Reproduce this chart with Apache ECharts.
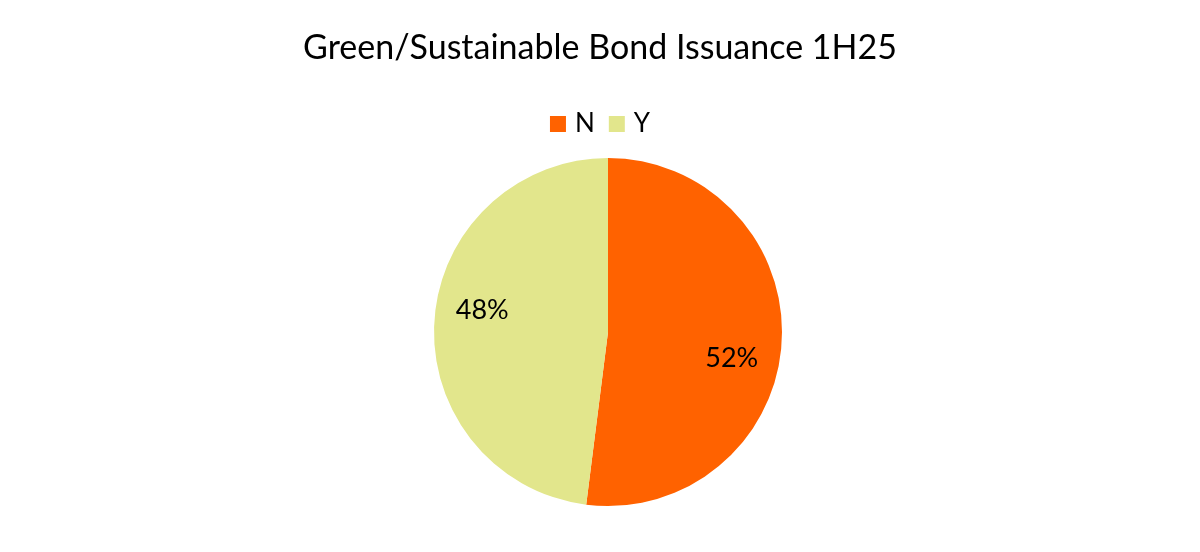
<!DOCTYPE html>
<html>
<head>
<meta charset="utf-8">
<script src="https://cdn.jsdelivr.net/npm/echarts@6/dist/echarts.min.js"></script>
<style>html,body{margin:0;padding:0;background:#fff;}#c{width:1200px;height:552px;}</style>
</head>
<body>
<div id="c"></div>
<script>
var titleText = 'Green/Sustainable Bond Issuance 1H25';
var categories = ['N', 'Y'];
var values = [52, 48];
var colors = ['#FF6200', '#E2E68C'];
var labelOffsets = [[-2, 18], [0, -14]];

var chart = echarts.init(document.getElementById('c'));
var font = 'Lato';
chart.setOption({
  animation: false,
  title: {
    text: titleText, left: 'center', top: 26,
    textStyle: {fontFamily: font, fontSize: 34, fontWeight: 'normal', color: '#000'}
  },
  legend: {
    data: categories, top: 106, left: 'center', icon: 'rect',
    itemWidth: 16, itemHeight: 16, itemGap: 14,
    textStyle: {fontFamily: font, fontSize: 26, color: '#000', padding: [0, 0, 0, 4]}
  },
  series: [{
    type: 'pie', center: [608, 332], radius: [0, 174],
    startAngle: 90, clockwise: true,
    data: categories.map(function (c, i) { return {name: c, value: values[i], itemStyle: {color: colors[i]}}; }),
    label: {show: false}, labelLine: {show: false}, emphasis: {disabled: true}
  }, {
    type: 'pie', center: [608, 332], radius: [72, 174],
    startAngle: 90, clockwise: true, silent: true,
    data: categories.map(function (c, i) {
      return {name: c, value: values[i], itemStyle: {color: 'rgba(0,0,0,0)'},
        label: {offset: labelOffsets[i]}};
    }),
    label: {show: true, position: 'inside', formatter: '{c}%', fontFamily: font, fontSize: 27, color: '#000'},
    labelLine: {show: false}, emphasis: {disabled: true}
  }]
});
</script>
</body>
</html>
